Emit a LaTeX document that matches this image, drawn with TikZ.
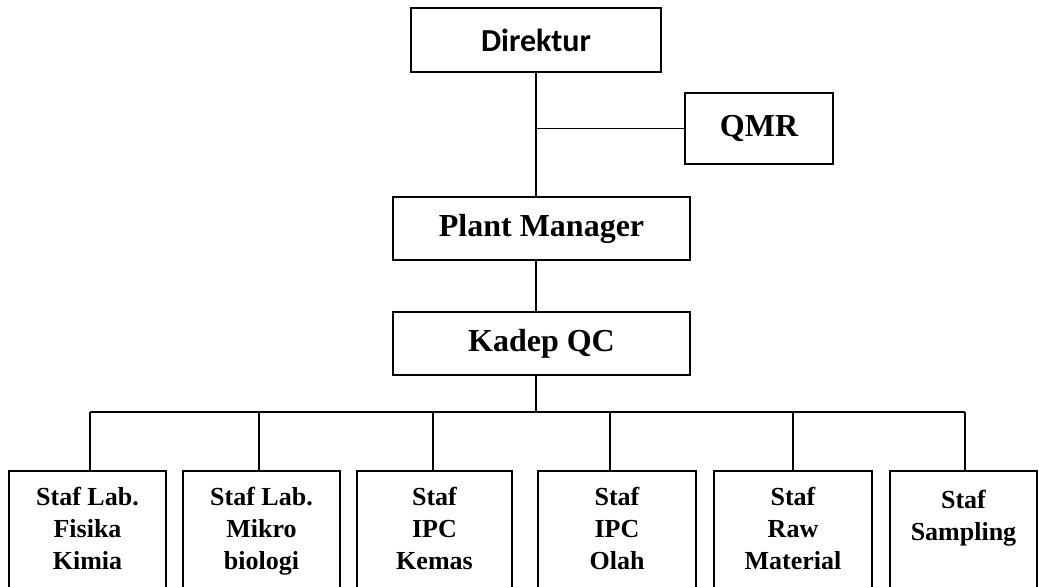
\documentclass[tikz,border=0pt]{standalone}
\usepackage{fontspec}
\setmainfont{Liberation Serif}
\newfontfamily\dirfont{Carlito}
\usetikzlibrary{calc}
\begin{document}
\begin{tikzpicture}[x=0.75pt,y=-0.75pt,
  topbox/.style={draw,line width=1.4pt,rectangle,inner sep=0pt,font=\fontsize{24}{29}\selectfont\bfseries},
  staffbox/.style={draw,line width=1.4pt,rectangle,inner sep=0pt,anchor=north,minimum height=120pt},
  stafftext/.style={anchor=north,inner sep=0pt,align=center,font=\fontsize{19.5}{23.8}\selectfont\bfseries},
  conn/.style={line width=0.8pt}]
\clip (0,0) rectangle (1039,586);
\fill[white] (0,0) rectangle (1039,586);
\node[topbox,minimum width=187.5pt,minimum height=48pt,font=\fontsize{24}{29}\dirfont\bfseries] (dir) at (536,40) {Direktur};
\node[topbox,minimum width=111pt,minimum height=53pt] (qmr) at (759,128.5) {QMR};
\node[topbox,minimum width=222.75pt,minimum height=47.25pt] (pm) at (541.5,228.5) {Plant Manager};
\node[topbox,minimum width=222.75pt,minimum height=47.25pt] (kqc) at (541.5,343.5) {Kadep QC};
\draw[conn] (dir.south) -- (dir.south |- pm.north);
\draw[conn] (dir.south |- qmr.west) -- (qmr.west);
\draw[conn] (dir.south |- pm.south) -- (dir.south |- kqc.north);
\coordinate (bus) at (536,412);
\draw[conn] (dir.south |- kqc.south) -- (bus);
\node[staffbox,minimum width=117.75pt] (b1) at (87.5,470) {};
\node[staffbox,minimum width=117.75pt] (b2) at (261.5,470) {};
\node[staffbox,minimum width=116.25pt] (b3) at (434.5,470) {};
\node[staffbox,minimum width=118.5pt] (b4) at (617,470) {};
\node[staffbox,minimum width=118.5pt] (b5) at (793,470) {};
\node[staffbox,minimum width=110.25pt] (b6) at (963.5,470) {};
\coordinate (d1) at (90,412);
\coordinate (d2) at (259,412);
\coordinate (d3) at (433,412);
\coordinate (d4) at (610,412);
\coordinate (d5) at (793,412);
\coordinate (d6) at (965,412);
\draw[conn] (d1) -- (d6);
\foreach \i in {1,...,6} {\draw[conn] (d\i) -- (d\i |- b\i.north);}
\node[stafftext] (t1) at ($(b1.north)+(0,17)$) {Staf Lab.\\Fisika\\Kimia};
\node[stafftext] (t2) at ($(b2.north)+(0,17)$) {Staf Lab.\\Mikro\\biologi};
\node[stafftext] (t3) at ($(b3.north)+(0,17)$) {Staf\\IPC\\Kemas};
\node[stafftext] (t4) at ($(b4.north)+(0,17)$) {Staf\\IPC\\Olah};
\node[stafftext] (t5) at ($(b5.north)+(0,17)$) {Staf\\Raw\\Material};
\node[stafftext] (t6) at ($(b6.north)+(0,20)$) {Staf\\Sampling};
\end{tikzpicture}
\end{document}
